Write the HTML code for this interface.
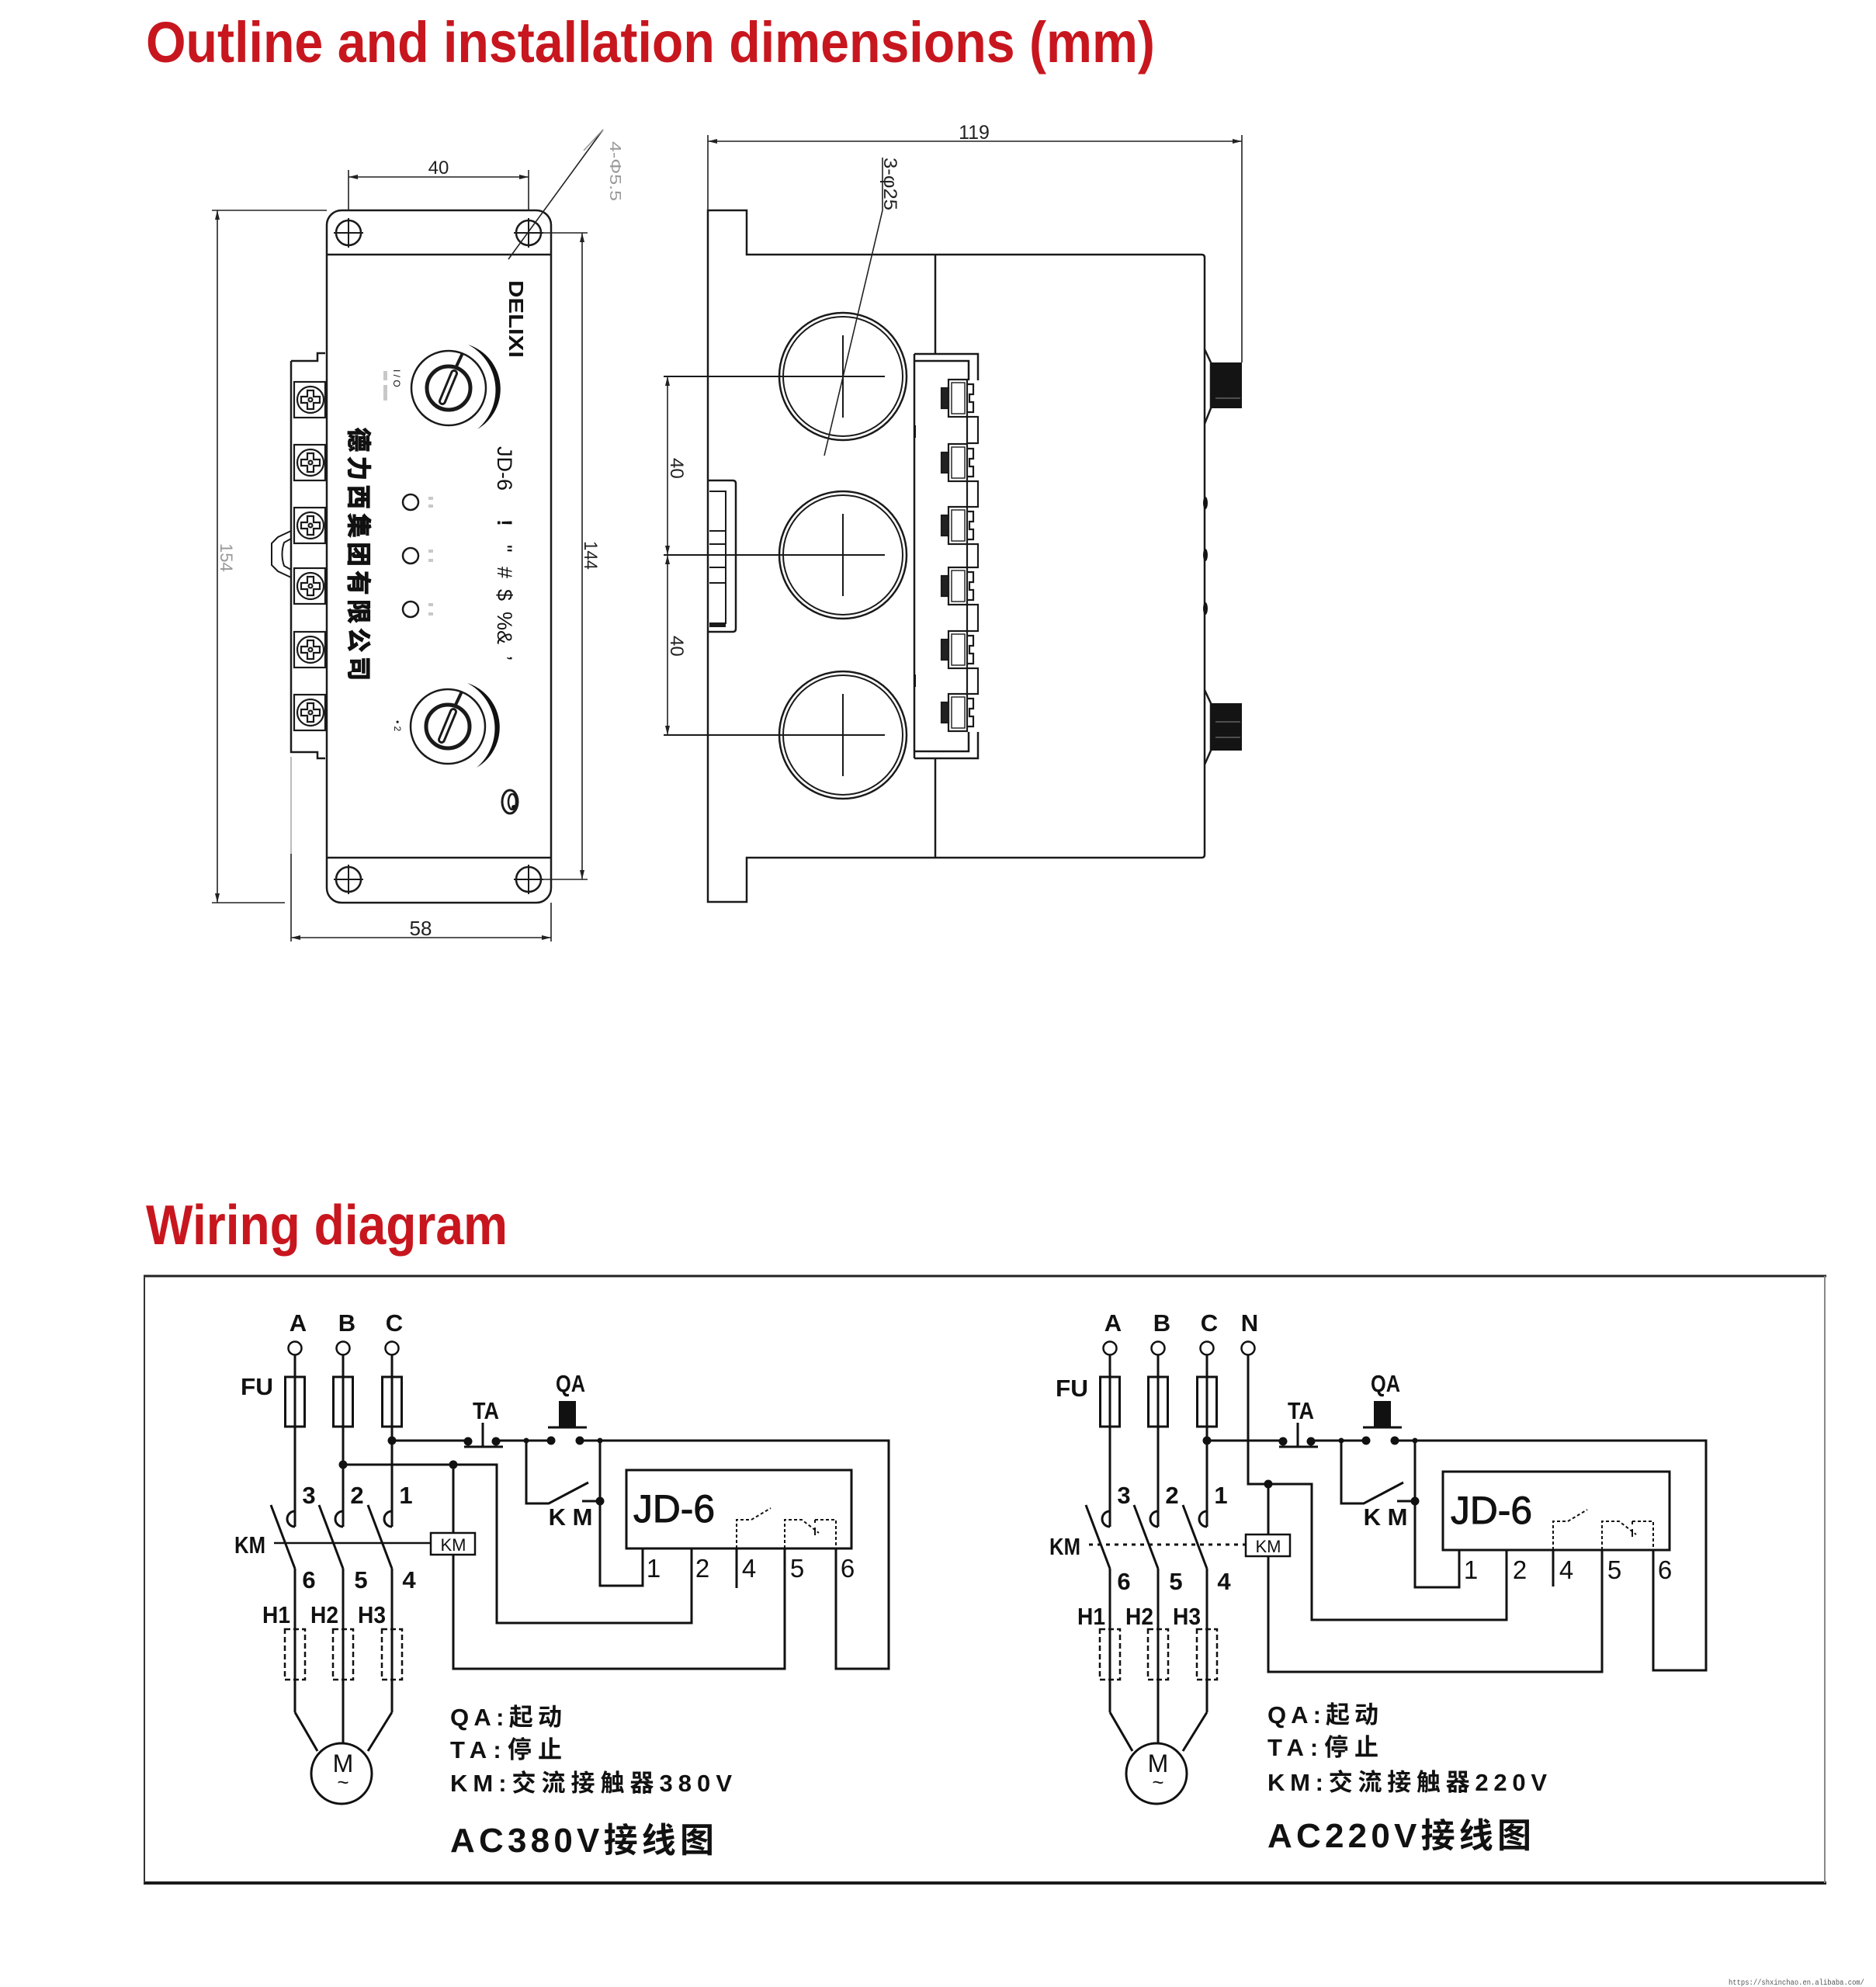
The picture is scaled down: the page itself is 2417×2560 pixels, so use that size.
<!DOCTYPE html>
<html><head><meta charset="utf-8"><style>html,body{margin:0;padding:0;background:#fff}svg{display:block}</style></head>
<body>
<svg xmlns="http://www.w3.org/2000/svg" width="2417" height="2560" viewBox="0 0 2417 2560">
<defs>
<marker id="ar" viewBox="0 0 12 6" refX="12" refY="3" markerWidth="12" markerHeight="6" markerUnits="userSpaceOnUse" orient="auto-start-reverse"><path d="M0,0L12,3L0,6z" fill="#222"/></marker>
</defs>
<rect width="2417" height="2560" fill="#fff"/>

<!-- Titles -->
<text x="188" y="80" font-family="Liberation Sans, sans-serif" font-weight="bold" font-size="74" fill="#c8161e" textLength="1300" lengthAdjust="spacingAndGlyphs">Outline and installation dimensions (mm)</text>
<text x="188" y="1603" font-family="Liberation Sans, sans-serif" font-weight="bold" font-size="72" fill="#c8161e" textLength="466" lengthAdjust="spacingAndGlyphs">Wiring diagram</text>

<!-- ============ FRONT VIEW ============ -->
<g fill="none" stroke="#1a1a1a" stroke-width="2.5">
  <rect x="421" y="271" width="289" height="892" rx="19"/>
  <path d="M421,328H710M421,1105H710"/>
  <circle cx="449" cy="300" r="16"/><circle cx="681" cy="300" r="16"/>
  <circle cx="449" cy="1133" r="16"/><circle cx="681" cy="1133" r="16"/>
  <path stroke-width="2" d="M430,300H468M449,281V319M662,300H700M681,281V319M430,1133H468M449,1114V1152M662,1133H700M681,1114V1152"/>
  <circle cx="529" cy="647" r="10"/><circle cx="529" cy="716" r="10"/><circle cx="529" cy="785" r="10"/>
  <path d="M375,465H409V455H419M375,465V969H409V977H419"/>
  <path d="M375,684L358,692L350,700V728L358,736L375,744M375,694L366,699Q361,714 366,729L375,734" stroke-width="2"/>
</g>
<g stroke="#1a1a1a" stroke-width="2.2" fill="#fff">
  <rect x="379" y="492" width="40" height="46"/><circle cx="400" cy="515" r="17"/><path d="M396,503H404V511H412V519H404V527H396V519H388V511H396Z"/><circle cx="400" cy="515" r="2.5"/>
  <rect x="379" y="573" width="40" height="46"/><circle cx="400" cy="596" r="17"/><path d="M396,584H404V592H412V600H404V608H396V600H388V592H396Z"/><circle cx="400" cy="596" r="2.5"/>
  <rect x="379" y="654" width="40" height="46"/><circle cx="400" cy="677" r="17"/><path d="M396,665H404V673H412V681H404V689H396V681H388V673H396Z"/><circle cx="400" cy="677" r="2.5"/>
  <rect x="379" y="732" width="40" height="46"/><circle cx="400" cy="755" r="17"/><path d="M396,743H404V751H412V759H404V767H396V759H388V751H396Z"/><circle cx="400" cy="755" r="2.5"/>
  <rect x="379" y="814" width="40" height="46"/><circle cx="400" cy="837" r="17"/><path d="M396,825H404V833H412V841H404V849H396V841H388V833H396Z"/><circle cx="400" cy="837" r="2.5"/>
  <rect x="379" y="895" width="40" height="46"/><circle cx="400" cy="918" r="17"/><path d="M396,906H404V914H412V922H404V930H396V922H388V914H396Z"/><circle cx="400" cy="918" r="2.5"/>
</g>
<g stroke="#1a1a1a" fill="none">
  <circle cx="578" cy="500" r="48" stroke-width="2.5"/>
  <circle cx="578" cy="500" r="28" stroke-width="5"/>
  <path d="M570,517L585,481" stroke-width="10" stroke-linecap="round"/>
  <path d="M570,517L585,481" stroke="#fff" stroke-width="4" stroke-linecap="round"/>
  <path d="M588,472L596,455" stroke-width="4"/>
  <path d="M603,444A60,60 0 0 1 615,553A66,66 0 0 0 603,444Z" fill="#111" stroke="none"/>
  <circle cx="577" cy="936" r="48" stroke-width="2.5"/>
  <circle cx="577" cy="936" r="28" stroke-width="5"/>
  <path d="M569,953L584,917" stroke-width="10" stroke-linecap="round"/>
  <path d="M569,953L584,917" stroke="#fff" stroke-width="4" stroke-linecap="round"/>
  <path d="M587,908L595,891" stroke-width="4"/>
  <path d="M602,880A60,60 0 0 1 614,989A66,66 0 0 0 602,880Z" fill="#111" stroke="none"/>
  <ellipse cx="657" cy="1033" rx="10" ry="15" stroke-width="3"/>
  <ellipse cx="660" cy="1033" rx="5" ry="10" stroke-width="2.5"/>
  <circle cx="662" cy="1040" r="2.5" fill="#111"/>
</g>
<g fill="#c8c8c8">
  <rect x="552" y="640" width="6" height="4"/><rect x="552" y="650" width="6" height="4"/>
  <rect x="552" y="708" width="6" height="4"/><rect x="552" y="720" width="6" height="4"/>
  <rect x="552" y="777" width="6" height="4"/><rect x="552" y="789" width="6" height="4"/>
  <rect x="494" y="478" width="5" height="12"/><rect x="494" y="496" width="5" height="20"/>
</g>
<g font-family="Liberation Sans, sans-serif" fill="#111">
  <text transform="translate(656,361) rotate(90)" font-size="26" font-weight="bold" textLength="100" lengthAdjust="spacingAndGlyphs">DELIXI</text>
  <text transform="translate(641,575) rotate(90)" font-size="27">JD-6</text>
  <text transform="translate(641,669) rotate(90)" font-size="27" font-weight="bold">!</text>
  <text transform="translate(641,702) rotate(90)" font-size="27">"</text>
  <text transform="translate(641,730) rotate(90)" font-size="27">#</text>
  <text transform="translate(641,759) rotate(90)" font-size="27">$</text>
  <text transform="translate(641,788) rotate(90)" font-size="27">%&amp;</text>
  <text transform="translate(641,845) rotate(90)" font-size="27">’</text>
  <text transform="translate(451,551) rotate(90)" font-family="Liberation Sans, Noto Sans CJK SC, sans-serif" font-size="31" font-weight="bold" stroke="#111" stroke-width="1.2" textLength="326" lengthAdjust="spacing">德力西集团有限公司</text>
  <text transform="translate(507,476) rotate(90)" font-size="12">I / O</text>
  <text transform="translate(508,928) rotate(90)" font-size="12">• 2</text>
</g>
<g fill="none" stroke="#222" stroke-width="1.6">
  <path d="M449,219V271M681,219V271"/>
  <path d="M449,228H681" marker-start="url(#ar)" marker-end="url(#ar)"/>
  <path d="M273,271H421M273,1163H367"/>
  <path d="M280,271V1163" marker-start="url(#ar)" marker-end="url(#ar)"/>
  <path d="M698,300H757M698,1133H757"/>
  <path d="M750,300V1133" marker-start="url(#ar)" marker-end="url(#ar)"/>
  <path d="M375,1100V1213M710,1163V1213"/>
  <path d="M375,975V1100" stroke="#aaa"/>
  <path d="M375,1208H710" marker-start="url(#ar)" marker-end="url(#ar)"/>
  <path d="M655,334L777,167"/>
  <path d="M777,167L752,194" stroke="#999"/>
</g>
<g font-family="Liberation Sans, sans-serif" fill="#222">
  <text x="565" y="224" font-size="24" text-anchor="middle">40</text>
  <text x="542" y="1205" font-size="26" text-anchor="middle">58</text>
  <text transform="translate(753,697) rotate(90)" font-size="24" textLength="37" lengthAdjust="spacingAndGlyphs">144</text>
  <text transform="translate(284,700) rotate(90)" font-size="22" fill="#999">154</text>
  <text transform="translate(786,182) rotate(90)" font-size="20" fill="#999" textLength="77" lengthAdjust="spacingAndGlyphs">4-Φ5.5</text>
</g>

<!-- ============ SIDE VIEW ============ -->
<g fill="none" stroke="#1a1a1a" stroke-width="2.5">
  <path d="M912,271H962V328H1548Q1552,328 1552,332V1101Q1552,1105 1548,1105H962V1162H912Z"/>
  <path d="M1205,328V456M1205,977V1105"/>
  <path d="M1178,456V977M1178,456H1260V490M1179,465H1248V490M1178,977H1260V943M1179,968H1248V943"/>
  <circle cx="1086" cy="485" r="82"/><circle cx="1086" cy="485" r="77" stroke-width="2"/>
  <circle cx="1086" cy="715" r="82"/><circle cx="1086" cy="715" r="77" stroke-width="2"/>
  <circle cx="1086" cy="947" r="82"/><circle cx="1086" cy="947" r="77" stroke-width="2"/>
  <path stroke-width="2" d="M855,485H1140M1086,432V538M855,715H1140M1086,662V768M855,947H1140M1086,894V1000"/>
  <path d="M912,619H944Q948,619 948,623V810Q948,814 944,814H912"/>
  <path stroke-width="2" d="M914,633H935V803H914M914,684H935M914,701H935M914,731H935M914,751H935"/>
  <path d="M914,806H935" stroke-width="4"/>
  <path d="M1552,450L1560,467V526L1552,546M1552,889L1560,906V967L1552,985"/>
</g>
<g fill="#141414">
  <rect x="1560" y="467" width="40" height="59"/>
  <rect x="1560" y="906" width="40" height="61"/>
  <ellipse cx="1553" cy="648" rx="3" ry="8"/><ellipse cx="1553" cy="715" rx="3" ry="8"/><ellipse cx="1553" cy="784" rx="3" ry="8"/>
  <rect x="1177" y="548" width="3" height="16"/><rect x="1177" y="869" width="3" height="16"/>
</g>
<path d="M1566,513H1598M1566,950H1598M1566,930H1598" stroke="#888" stroke-width="1"/>
<g stroke="#1a1a1a" stroke-width="2.2" fill="#fff">
  <rect x="1222" y="489" width="24" height="48"/><rect x="1226" y="493" width="17" height="40" stroke-width="1.4"/><rect x="1213" y="500" width="9" height="26" fill="#222"/><path d="M1246,495H1254V508H1249V518H1254V531H1246" fill="none"/><rect x="1246" y="537" width="14" height="34"/>
  <rect x="1222" y="572" width="24" height="48"/><rect x="1226" y="576" width="17" height="40" stroke-width="1.4"/><rect x="1213" y="583" width="9" height="26" fill="#222"/><path d="M1246,578H1254V591H1249V601H1254V614H1246" fill="none"/><rect x="1246" y="620" width="14" height="33"/>
  <rect x="1222" y="653" width="24" height="48"/><rect x="1226" y="657" width="17" height="40" stroke-width="1.4"/><rect x="1213" y="664" width="9" height="26" fill="#222"/><path d="M1246,659H1254V672H1249V682H1254V695H1246" fill="none"/><rect x="1246" y="701" width="14" height="30"/>
  <rect x="1222" y="731" width="24" height="48"/><rect x="1226" y="735" width="17" height="40" stroke-width="1.4"/><rect x="1213" y="742" width="9" height="26" fill="#222"/><path d="M1246,737H1254V750H1249V760H1254V773H1246" fill="none"/><rect x="1246" y="779" width="14" height="34"/>
  <rect x="1222" y="813" width="24" height="48"/><rect x="1226" y="817" width="17" height="40" stroke-width="1.4"/><rect x="1213" y="824" width="9" height="26" fill="#222"/><path d="M1246,819H1254V832H1249V842H1254V855H1246" fill="none"/><rect x="1246" y="861" width="14" height="33"/>
  <rect x="1222" y="894" width="24" height="48"/><rect x="1226" y="898" width="17" height="40" stroke-width="1.4"/><rect x="1213" y="905" width="9" height="26" fill="#222"/><path d="M1246,900H1254V913H1249V923H1254V936H1246" fill="none"/>
</g>
<g fill="none" stroke="#222" stroke-width="1.6">
  <path d="M912,174V271M1600,174V467"/>
  <path d="M912,182H1600" marker-start="url(#ar)" marker-end="url(#ar)"/>
  <path d="M860,485V715" marker-start="url(#ar)" marker-end="url(#ar)"/>
  <path d="M860,715V947" marker-start="url(#ar)" marker-end="url(#ar)"/>
  <path d="M1062,587L1137,271V203"/>
</g>
<g font-family="Liberation Sans, sans-serif" fill="#222">
  <text x="1255" y="179" font-size="25" text-anchor="middle">119</text>
  <text transform="translate(864,590) rotate(90)" font-size="24">40</text>
  <text transform="translate(864,819) rotate(90)" font-size="24">40</text>
  <text transform="translate(1139,203) rotate(90)" font-size="24" textLength="68" lengthAdjust="spacingAndGlyphs">3-φ25</text>
</g>

<!-- ============ WIRING FRAME ============ -->
<path d="M185,1644H2353" stroke="#222" stroke-width="3"/>
<path d="M185,2426H2353" stroke="#1a1a1a" stroke-width="4"/>
<path d="M186,1644V2426" stroke="#333" stroke-width="2"/>
<path d="M2351,1644V2426" stroke="#888" stroke-width="2"/>

<!-- ============ LEFT WIRING (AC380V) ============ -->
<g>
<g fill="none" stroke="#111" stroke-width="3">
  <path d="M380,1746V1967M442,1746V1967M505,1746V1967"/>
  <rect x="367.5" y="1774" width="25" height="64"/><rect x="429.5" y="1774" width="25" height="64"/><rect x="492.5" y="1774" width="25" height="64"/>
  <path d="M380,1947A10,10 0 0 0 380,1967M442,1947A10,10 0 0 0 442,1967M505,1947A10,10 0 0 0 505,1967"/>
  <path d="M349,1939L380,2021M411,1939L442,2021M474,1939L505,2021"/>
  <path d="M380,2021V2206M442,2021V2206M505,2021V2206"/>
  <g stroke-dasharray="7 4" stroke-width="2.5"><rect x="367" y="2099" width="26" height="65"/><rect x="429" y="2099" width="26" height="65"/><rect x="492" y="2099" width="26" height="65"/></g>
  <circle cx="440" cy="2285" r="39"/>
  <path d="M380,2206L409,2256M442,2206V2246M505,2206L474,2256"/>
  <path d="M505,1856H603M639,1856H710M747,1856H1145V2150H1077V1995"/>
  <path d="M598,1864H648M622,1833V1864M706,1839H756"/>
  <path d="M678,1856V1937H707L758,1910M750,1934H773"/>
  <path d="M773,1856V2043H828V1995"/>
  <rect x="555" y="1975" width="57" height="28" stroke-width="2.5"/>
  <path d="M584,2003V2150H1011V1995"/>
  <path d="M949,1995V2046"/>
  <rect x="807" y="1894" width="290" height="101"/>
  <g stroke-width="2" stroke-dasharray="4 3"><path d="M949,1995V1958H968L993,1943M1011,1995V1958H1033L1055,1975M1050,1958H1077V1995"/></g>
  <path d="M1050,1968V1978M1050,1958V1962" stroke-width="2"/>
  <path d="M442,1887H640V2091H891V1995M584,1887V1975"/>
  <path d="M353,1988H555" stroke-width="2.5"/>
</g>
<g fill="#fff" stroke="#111" stroke-width="2.5"><circle cx="380" cy="1737" r="8.5"/><circle cx="442" cy="1737" r="8.5"/><circle cx="505" cy="1737" r="8.5"/></g>
<rect x="720" y="1805" width="22" height="34" fill="#111"/>
<g fill="#111"><circle cx="505" cy="1856" r="5.5"/><circle cx="603" cy="1857" r="5.5"/><circle cx="639" cy="1857" r="5.5"/><circle cx="710" cy="1856" r="5.5"/><circle cx="747" cy="1856" r="5.5"/><circle cx="773" cy="1934" r="5.5"/><circle cx="678" cy="1856" r="3.5"/><circle cx="773" cy="1856" r="3.5"/><circle cx="442" cy="1887" r="5.5"/><circle cx="584" cy="1887" r="5.5"/></g>
<g font-family="Liberation Sans, sans-serif" font-weight="bold" font-size="31" fill="#111" text-anchor="middle">
  <text x="384" y="1715">A</text><text x="447" y="1715">B</text><text x="508" y="1715">C</text>
  <text x="331" y="1797" textLength="42" lengthAdjust="spacingAndGlyphs">FU</text><text x="322" y="2001" textLength="40" lengthAdjust="spacingAndGlyphs">KM</text>
  <text x="626" y="1828" textLength="34" lengthAdjust="spacingAndGlyphs">TA</text><text x="735" y="1793" textLength="38" lengthAdjust="spacingAndGlyphs">QA</text><text x="735" y="1965">K M</text>
  <text x="398" y="1937">3</text><text x="460" y="1937">2</text><text x="523" y="1937">1</text>
  <text x="398" y="2046">6</text><text x="465" y="2046">5</text><text x="527" y="2046">4</text>
  <text x="356" y="2091" textLength="36" lengthAdjust="spacingAndGlyphs">H1</text><text x="418" y="2091" textLength="36" lengthAdjust="spacingAndGlyphs">H2</text><text x="479" y="2091" textLength="36" lengthAdjust="spacingAndGlyphs">H3</text>
  <text x="842" y="2032" font-weight="normal" font-size="33">1</text><text x="905" y="2032" font-weight="normal" font-size="33">2</text><text x="965" y="2032" font-weight="normal" font-size="33">4</text><text x="1027" y="2032" font-weight="normal" font-size="33">5</text><text x="1092" y="2032" font-weight="normal" font-size="33">6</text>
  <text x="584" y="1998" font-weight="normal" font-size="22">KM</text>
  <text x="442" y="2283" font-weight="normal" font-size="32">M</text>
  <text x="442" y="2305" font-weight="normal" font-size="26">~</text>
</g>
<text x="816" y="1961" font-family="Liberation Sans, sans-serif" font-size="50" fill="#111" stroke="#111" stroke-width="1" textLength="105" lengthAdjust="spacingAndGlyphs">JD-6</text>
</g>

<!-- ============ RIGHT WIRING (AC220V) ============ -->
<g transform="translate(1050,0)">
<g fill="none" stroke="#111" stroke-width="3">
  <path d="M380,1746V1967M442,1746V1967M505,1746V1967"/>
  <rect x="367.5" y="1774" width="25" height="64"/><rect x="429.5" y="1774" width="25" height="64"/><rect x="492.5" y="1774" width="25" height="64"/>
  <path d="M380,1947A10,10 0 0 0 380,1967M442,1947A10,10 0 0 0 442,1967M505,1947A10,10 0 0 0 505,1967"/>
  <path d="M349,1939L380,2021M411,1939L442,2021M474,1939L505,2021"/>
  <path d="M380,2021V2206M442,2021V2206M505,2021V2206"/>
  <g stroke-dasharray="7 4" stroke-width="2.5"><rect x="367" y="2099" width="26" height="65"/><rect x="429" y="2099" width="26" height="65"/><rect x="492" y="2099" width="26" height="65"/></g>
  <circle cx="440" cy="2285" r="39"/>
  <path d="M380,2206L409,2256M442,2206V2246M505,2206L474,2256"/>
  <path d="M505,1856H603M639,1856H710M747,1856H1148V2152H1080V1997"/>
  <path d="M598,1864H648M622,1833V1864M706,1839H756"/>
  <path d="M678,1856V1937H707L758,1910M750,1934H773"/>
  <path d="M773,1856V2045H830V1997"/>
  <rect x="555" y="1977" width="57" height="28" stroke-width="2.5"/>
  <path d="M584,2005V2154H1014V1997"/>
  <path d="M951,1997V2044"/>
  <rect x="809" y="1896" width="292" height="101"/>
  <g stroke-width="2" stroke-dasharray="4 3"><path d="M951,1997V1960H970L995,1945M1014,1997V1960H1036L1058,1977M1053,1960H1080V1997"/></g>
  <path d="M1053,1970V1980M1053,1960V1964" stroke-width="2"/>
  <path d="M558,1746V1912H640V2087H891V1997M584,1912V1977"/>
  <path d="M353,1990H555" stroke-width="3" stroke-dasharray="5 6"/>
</g>
<g fill="#fff" stroke="#111" stroke-width="2.5"><circle cx="380" cy="1737" r="8.5"/><circle cx="442" cy="1737" r="8.5"/><circle cx="505" cy="1737" r="8.5"/><circle cx="558" cy="1737" r="8.5"/></g>
<rect x="720" y="1805" width="22" height="34" fill="#111"/>
<g fill="#111"><circle cx="505" cy="1856" r="5.5"/><circle cx="603" cy="1857" r="5.5"/><circle cx="639" cy="1857" r="5.5"/><circle cx="710" cy="1856" r="5.5"/><circle cx="747" cy="1856" r="5.5"/><circle cx="773" cy="1934" r="5.5"/><circle cx="678" cy="1856" r="3.5"/><circle cx="773" cy="1856" r="3.5"/><circle cx="584" cy="1912" r="5.5"/></g>
<g font-family="Liberation Sans, sans-serif" font-weight="bold" font-size="31" fill="#111" text-anchor="middle">
  <text x="384" y="1715">A</text><text x="447" y="1715">B</text><text x="508" y="1715">C</text><text x="560" y="1715">N</text>
  <text x="331" y="1799" textLength="42" lengthAdjust="spacingAndGlyphs">FU</text><text x="322" y="2003" textLength="40" lengthAdjust="spacingAndGlyphs">KM</text>
  <text x="626" y="1828" textLength="34" lengthAdjust="spacingAndGlyphs">TA</text><text x="735" y="1793" textLength="38" lengthAdjust="spacingAndGlyphs">QA</text><text x="735" y="1965">K M</text>
  <text x="398" y="1937">3</text><text x="460" y="1937">2</text><text x="523" y="1937">1</text>
  <text x="398" y="2048">6</text><text x="465" y="2048">5</text><text x="527" y="2048">4</text>
  <text x="356" y="2093" textLength="36" lengthAdjust="spacingAndGlyphs">H1</text><text x="418" y="2093" textLength="36" lengthAdjust="spacingAndGlyphs">H2</text><text x="479" y="2093" textLength="36" lengthAdjust="spacingAndGlyphs">H3</text>
  <text x="845" y="2034" font-weight="normal" font-size="33">1</text><text x="908" y="2034" font-weight="normal" font-size="33">2</text><text x="968" y="2034" font-weight="normal" font-size="33">4</text><text x="1030" y="2034" font-weight="normal" font-size="33">5</text><text x="1095" y="2034" font-weight="normal" font-size="33">6</text>
  <text x="584" y="2000" font-weight="normal" font-size="22">KM</text>
  <text x="442" y="2283" font-weight="normal" font-size="32">M</text>
  <text x="442" y="2305" font-weight="normal" font-size="26">~</text>
</g>
<text x="819" y="1963" font-family="Liberation Sans, sans-serif" font-size="50" fill="#111" stroke="#111" stroke-width="1" textLength="105" lengthAdjust="spacingAndGlyphs">JD-6</text>
</g>

<!-- legends -->
<g font-family="Liberation Sans, Noto Sans CJK SC, sans-serif" font-weight="bold" fill="#111" font-size="31">
  <text x="580" y="2223" textLength="144" lengthAdjust="spacing">QA:起动</text>
  <text x="580" y="2265" textLength="144" lengthAdjust="spacing">TA:停止</text>
  <text x="580" y="2308" textLength="363" lengthAdjust="spacing">KM:交流接触器380V</text>
  <text x="580" y="2386" font-size="44" textLength="340" lengthAdjust="spacing">AC380V接线图</text>
  <text x="1633" y="2220" textLength="143" lengthAdjust="spacing">QA:起动</text>
  <text x="1633" y="2262" textLength="143" lengthAdjust="spacing">TA:停止</text>
  <text x="1633" y="2307" textLength="360" lengthAdjust="spacing">KM:交流接触器220V</text>
  <text x="1633" y="2380" font-size="44" textLength="340" lengthAdjust="spacing">AC220V接线图</text>
</g>

<text x="2227" y="2557" font-family="Liberation Mono, monospace" font-size="10" fill="#555" textLength="175" lengthAdjust="spacingAndGlyphs">https://shxinchao.en.alibaba.com/</text>
</svg>
</body></html>
